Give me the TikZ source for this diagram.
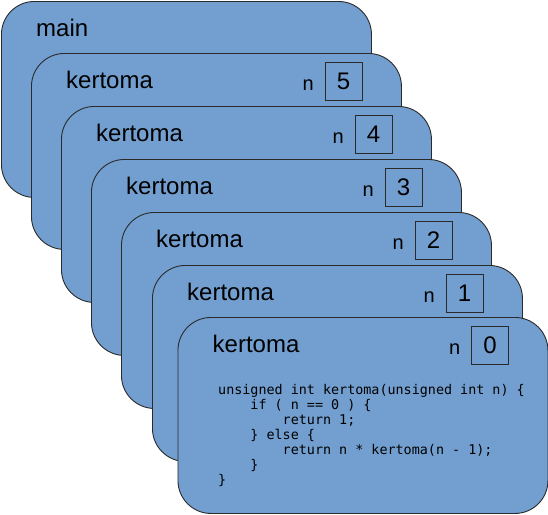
\documentclass[tikz,border=0pt]{standalone}
\usepackage{fontspec}
\setmainfont{Liberation Sans}
\newfontfamily\codefont{DejaVu Sans Mono}
\definecolor{boxblue}{HTML}{729FCF}
\definecolor{edgegray}{HTML}{2A2A2A}
\begin{document}
\begin{tikzpicture}[x=1pt,y=-1pt,
  frame/.style={draw=edgegray, fill=boxblue, line width=0.9pt, rounded corners=33pt,
    minimum width=370pt, minimum height=196pt, anchor=north west, inner sep=0pt},
  title/.style={font=\fontsize{24}{28}\selectfont, anchor=base west, inner sep=0pt},
  varname/.style={font=\fontsize{20}{24}\selectfont, anchor=base east, inner sep=0pt},
  valbox/.style={draw=edgegray, line width=0.9pt, minimum width=37pt, minimum height=38pt,
    anchor=north west, inner sep=0pt, font=\fontsize{24}{28}\selectfont},
  code/.style={font=\codefont\fontsize{13.4}{15}\selectfont, anchor=base west, inner sep=0pt, align=left}]
\useasboundingbox (0,0) rectangle (548,514);
\node[frame] (f0) at (1,1) {};
\node[title] (t0) at (36,36) {main};
\foreach \L/\T/\v/\i in {31/53/5/1, 61/106/4/2, 91/159/3/3, 121/212/2/4, 152/265/1/5, 177.5/317/0/6}{
  \node[frame] (f\i) at (\L,\T) {};
  \node[title] (t\i) at (\L+35,\T+35) {kertoma};
  \node[valbox] (b\i) at (\L+293.5,\T+8.5) {\v};
  \node[varname] (n\i) at (\L+283,\T+37) {n};
}
\newcommand{\ind}{\phantom{xxxx}}
\node[code] (c) at (218,484) {unsigned int kertoma(unsigned int n) \{\\
\ind if ( n == 0 ) \{\\
\ind\ind return 1;\\
\ind \} else \{\\
\ind\ind return n * kertoma(n - 1);\\
\ind \}\\
\}};
\end{tikzpicture}
\end{document}
